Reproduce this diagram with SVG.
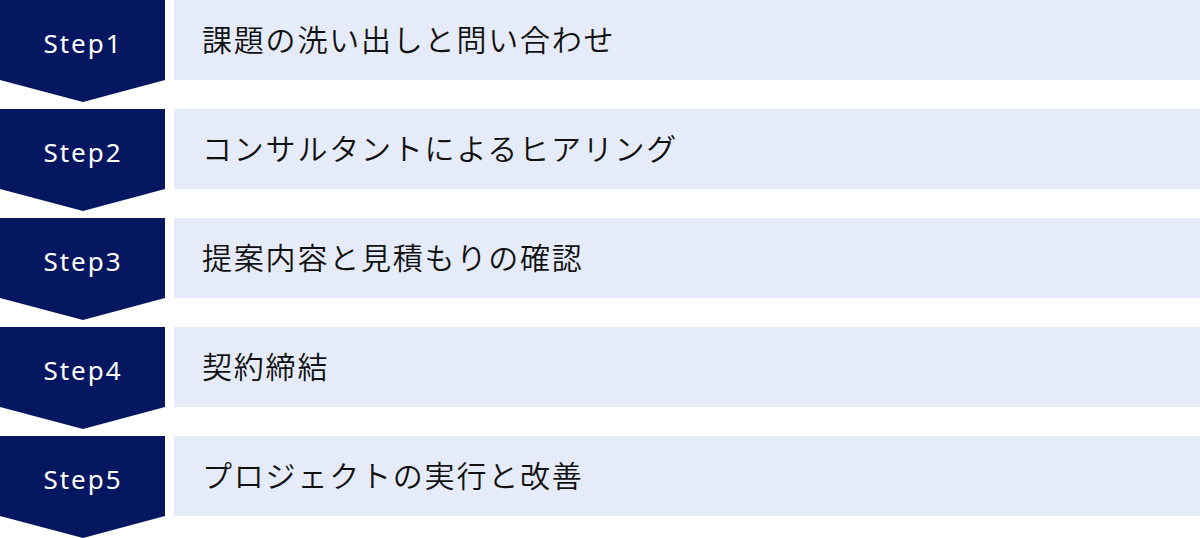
<svg xmlns="http://www.w3.org/2000/svg" width="1200" height="538" viewBox="0 0 1200 538">
<style>
.chev{fill:#061761}
.box{fill:#e5ebf8}
.step{font-family:"Noto Sans","Noto Sans CJK JP",sans-serif;font-size:26px;fill:#ffffff;letter-spacing:2px;text-anchor:middle}
.label{font-family:"Noto Sans CJK JP","Noto Sans CJK SC",sans-serif;font-size:30px;font-weight:350;fill:#111111;letter-spacing:1.8px}
</style>
<rect width="1200" height="538" fill="#ffffff"/>
<g id="step1">
<path class="chev" d="M0 0H165V80L83 102L0 80Z"/>
<rect class="box" x="174" y="0" width="1026" height="80"/>
<text class="step" x="83" y="53">Step1</text>
<text class="label" x="202" y="51">課題の洗い出しと問い合わせ</text>
</g>
<g id="step2">
<path class="chev" d="M0 109H165V189L83 211L0 189Z"/>
<rect class="box" x="174" y="109" width="1026" height="80"/>
<text class="step" x="83" y="162">Step2</text>
<text class="label" x="202" y="160">コンサルタントによるヒアリング</text>
</g>
<g id="step3">
<path class="chev" d="M0 218H165V298L83 320L0 298Z"/>
<rect class="box" x="174" y="218" width="1026" height="80"/>
<text class="step" x="83" y="271">Step3</text>
<text class="label" x="202" y="269">提案内容と見積もりの確認</text>
</g>
<g id="step4">
<path class="chev" d="M0 327H165V407L83 429L0 407Z"/>
<rect class="box" x="174" y="327" width="1026" height="80"/>
<text class="step" x="83" y="380">Step4</text>
<text class="label" x="202" y="378">契約締結</text>
</g>
<g id="step5">
<path class="chev" d="M0 436H165V516L83 538L0 516Z"/>
<rect class="box" x="174" y="436" width="1026" height="80"/>
<text class="step" x="83" y="489">Step5</text>
<text class="label" x="202" y="487">プロジェクトの実行と改善</text>
</g>
<g id="connectors"></g>
</svg>
